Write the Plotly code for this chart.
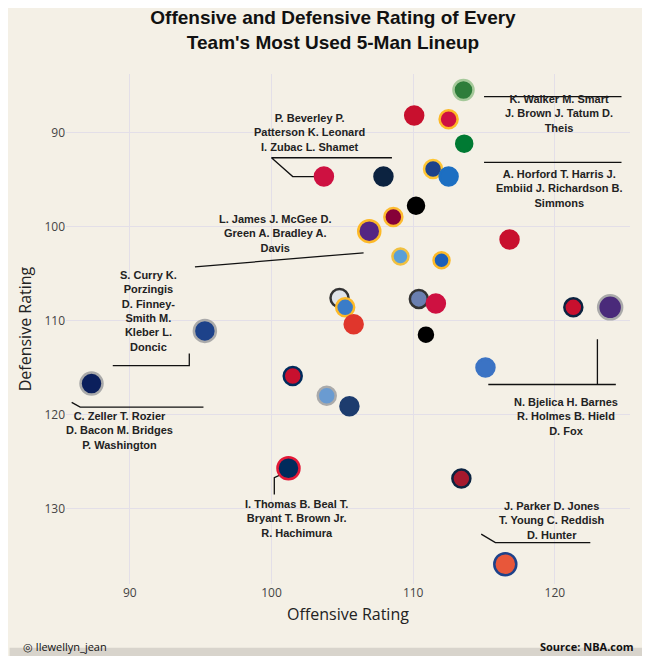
import plotly.graph_objects as go

off = [113.55,110.07,112.5,113.6,103.7,107.9,111.4,112.5,110.2,108.6,106.9,116.8,109.1,112.0,104.8,105.2,110.4,111.6,105.8,110.9,121.3,123.9,95.3,87.3,101.5,103.9,105.5,115.1,101.2,113.4,116.5]
dfn = [85.5,88.2,88.6,91.2,94.7,94.7,93.9,94.7,97.8,99.0,100.5,101.4,103.2,103.6,107.6,108.6,107.7,108.2,110.4,111.5,108.6,108.6,111.1,116.7,115.9,118.0,119.1,115.0,125.7,126.8,135.9]
fill = ["#2e7d3a","#c8102e","#ce1141","#007a33","#ce1141","#0c2340","#1d428a","#1d6fc2","#000000","#860038","#552583","#c8102e","#5a9fd6","#1d5fb8","#dfe3e8","#3a7cc8","#6a7fb0","#ce1141","#e0362c","#000000","#c8102e","#4a2a7a","#1d428a","#0b1f5c","#c8102e","#6a9bd1","#1d3c6e","#3b73c4","#002b5c","#a6192e","#e8573a"]
edge = ["#a5c99a","#c8102e","#fdb927","#007a33","#ce1141","#0c2340","#ffc633","#1d6fc2","#000000","#fdbb30","#fdb927","#c8102e","#f0c040","#fdb927","#333333","#fdb927","#333333","#ce1141","#e0362c","#000000","#0c2340","#aaaaaa","#aaaaaa","#aaaaaa","#002b5c","#aaaaaa","#1d3c6e","#3b73c4","#e31837","#0c2340","#1d428a"]
size = [20,18,18,16,18,18,18,18,16,18,22,18,16,16,18,18,18,18,18,14,18,24,22,22,18,18,18,18,22,18,22]

labels = [
 (120.3, 88.0, "K. Walker M. Smart<br>J. Brown J. Tatum D.<br>Theis", [(115.0,86.2),(124.7,86.2)]),
 (120.3, 96.0, "A. Horford T. Harris J.<br>Embiid J. Richardson B.<br>Simmons", [(115.0,93.2),(124.7,93.2)]),
 (102.7, 90.0, "P. Beverley P.<br>Patterson K. Leonard<br>I. Zubac L. Shamet", [(108.5,92.7),(100.0,92.7),(101.5,94.7),(103.0,94.7)]),
 (100.3, 100.8, "L. James J. McGee D.<br>Green A. Bradley A.<br>Davis", [(106.5,102.8),(94.6,104.3)]),
 (91.3, 109.0, "S. Curry K.<br>Porzingis<br>D. Finney-<br>Smith M.<br>Kleber L.<br>Doncic", [(94.2,113.5),(94.2,114.8),(88.8,114.8)]),
 (89.3, 121.7, "C. Zeller T. Rozier<br>D. Bacon M. Bridges<br>P. Washington", [(85.9,118.7),(86.5,119.2),(95.2,119.2)]),
 (120.8, 120.2, "N. Bjelica H. Barnes<br>R. Holmes B. Hield<br>D. Fox", [(123.0,112.0),(123.0,116.8),(124.3,116.8),(115.3,116.8)]),
 (101.8, 131.0, "I. Thomas B. Beal T.<br>Bryant T. Brown Jr.<br>R. Hachimura", [(100.2,128.5),(100.2,126.7),(101.5,125.8)]),
 (119.8, 131.3, "J. Parker D. Jones<br>T. Young C. Reddish<br>D. Hunter", [(114.8,132.7),(115.8,133.6),(122.5,133.6)]),
]

fig = go.Figure()
for x, y, t, pts in labels:
    fig.add_annotation(x=x, y=y, text="<b>"+t+"</b>", showarrow=False,
        font=dict(family="Liberation Sans", size=11, color="#222"), align="center")
    fig.add_trace(go.Scatter(x=[p[0] for p in pts], y=[p[1] for p in pts], mode="lines",
        line=dict(color="#111", width=1.3), hoverinfo="skip"))
fig.add_trace(go.Scatter(x=off, y=dfn, mode="markers",
    marker=dict(size=size, color=fill, opacity=1, line=dict(color=edge, width=2.5))))

fig.update_layout(width=650, height=656, showlegend=False,
    paper_bgcolor="#f4f0e6", plot_bgcolor="#f4f0e6",
    margin=dict(l=58, r=28, t=66, b=80),
    title=dict(text="<b>Offensive and Defensive Rating of Every<br>Team's Most Used 5-Man Lineup</b>",
               x=0.5, y=0.975, xanchor="center", font=dict(family="Liberation Sans", size=19, color="#111")),
    xaxis=dict(range=[85.5, 125.3], tickvals=[90,100,110,120], gridcolor="#e3dfe8", zeroline=False,
               title=dict(text="Offensive Rating", font=dict(size=16, color="#222"), standoff=8),
               tickfont=dict(color="#444", size=12)),
    yaxis=dict(range=[138, 83.8], tickvals=[90,100,110,120,130], gridcolor="#e3dfe8", zeroline=False,
               title=dict(text="Defensive Rating", font=dict(size=16, color="#222"), standoff=8),
               tickfont=dict(color="#444", size=12)))
fig.add_shape(type="rect", xref="paper", yref="paper", x0=-0.1, x1=1.06, y0=-0.16, y1=-0.125,
              fillcolor="#d8d4cc", line_width=0)
fig.add_annotation(xref="paper", yref="paper", x=-0.08, y=-0.142, text="◎ llewellyn_jean", showarrow=False,
                   xanchor="left", font=dict(size=11, color="#111"))
fig.add_annotation(xref="paper", yref="paper", x=1.01, y=-0.142, text="<b>Source: NBA.com</b>", showarrow=False,
                   xanchor="right", font=dict(size=11, color="#111"))
fig.write_html("out.html")
